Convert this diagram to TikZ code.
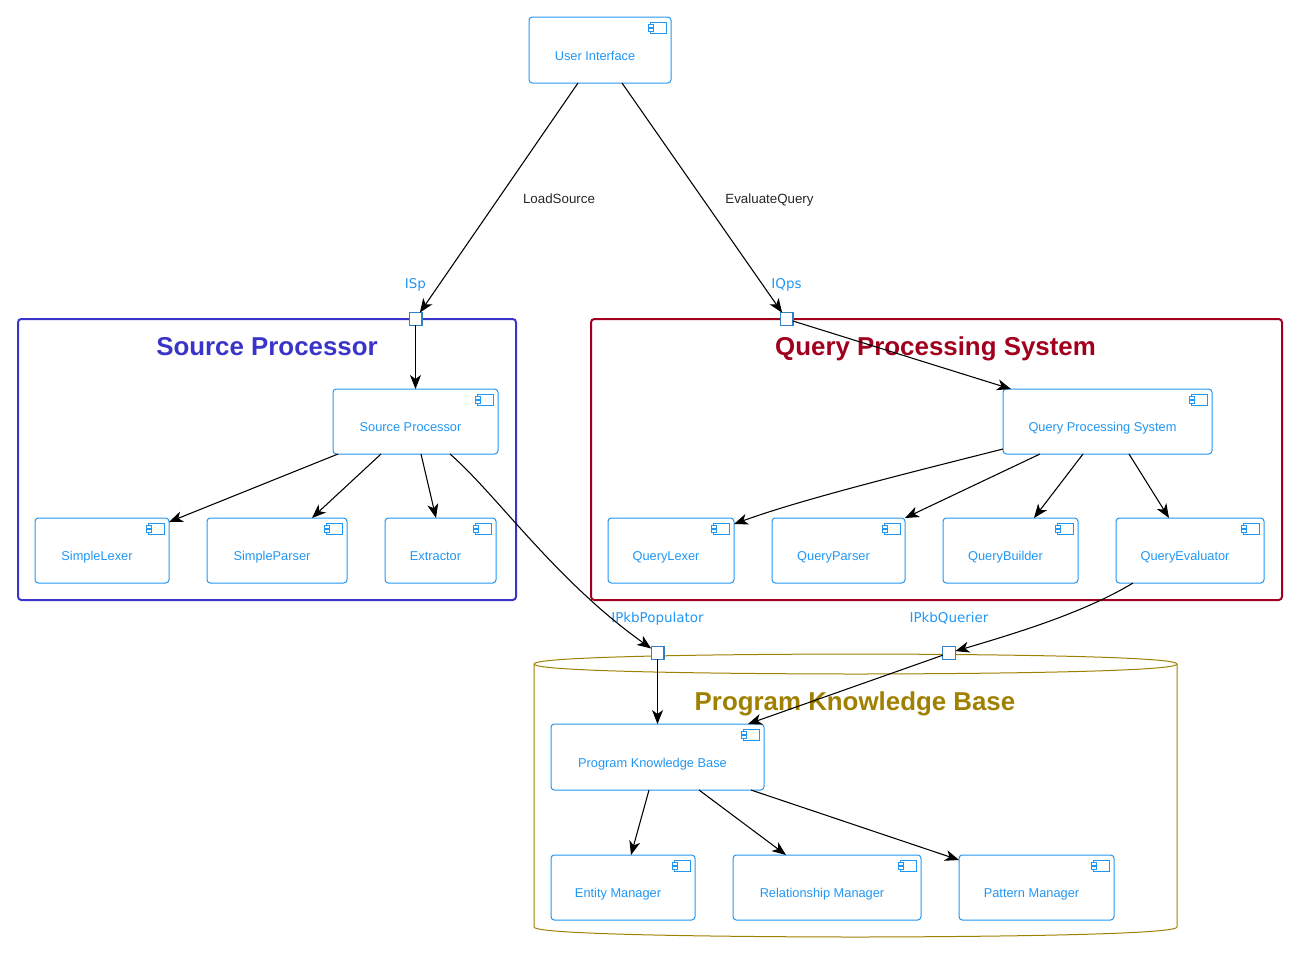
\documentclass[tikz,border=0pt]{standalone}
\usepackage{fontspec}
\setmainfont{Liberation Sans}
\newfontfamily\portfont{DejaVu Sans}
\usepackage{xcolor}
\usetikzlibrary{arrows.meta,positioning,calc}
\definecolor{compblue}{HTML}{2196F3}
\definecolor{portblue}{HTML}{2F80C4}
\definecolor{spblue}{HTML}{3A34C8}
\definecolor{qpsred}{HTML}{A0001E}
\definecolor{pkbgold}{HTML}{A08000}
\tikzset{
    comp/.style={draw=compblue, line width=0.75pt, rounded corners=2.5pt, inner sep=0pt, outer sep=0pt},
    comptext/.style={text=compblue, font=\fontsize{9.6}{11}\selectfont, inner sep=0pt, text height=7pt, text depth=2pt},
    icon/.style={draw=compblue, line width=0.75pt, fill=white},
    frame/.style={draw=#1, line width=1.5pt, rounded corners=2.5pt, inner sep=0pt, outer sep=0pt},
    title/.style={text=#1, font=\fontsize{19.4}{22}\selectfont\bfseries, inner sep=0pt, anchor=base},
    portbox/.style={draw=portblue, line width=1pt, fill=white, minimum size=9.5pt, inner sep=0pt, outer sep=0pt},
    portlabel/.style={text=compblue, font=\portfont\fontsize{10.1}{12}\selectfont, inner sep=0pt, text height=7.5pt, text depth=2pt},
    edgelabel/.style={text=black!85, font=\fontsize{10}{12}\selectfont, inner sep=0pt, text height=7.5pt, text depth=2pt},
    link/.style={-{Stealth[length=10.5pt,width=8.25pt,inset=3pt]}, line width=0.8pt, black}
}
\begin{document}
\begin{tikzpicture}[x=0.75pt,y=-0.75pt]
    \useasboundingbox (0,0) rectangle (1291,958);

    % Outer containers
    \node[frame=spblue, minimum width=373.5pt, minimum height=210.75pt] (spframe) at (267,459.5) {};
    \node[frame=qpsred, minimum width=518.25pt, minimum height=210.75pt] (qpsframe) at (936.5,459.5) {};
    \draw[pkbgold, line width=0.75pt] (534,664) .. controls (534,654) and (855,654) .. (855.5,654)
        .. controls (855,654) and (1177,654) .. (1177,664) -- (1177,927)
        .. controls (1177,937) and (855,937) .. (855.5,937)
        .. controls (855,937) and (534,937) .. (534,927) -- cycle;
    \draw[pkbgold, line width=0.75pt] (534,664) .. controls (534,674) and (855,674) .. (855.5,674)
        .. controls (855,674) and (1177,674) .. (1177,664);

    % Container titles
    \node[title=spblue] (sptitle) at (267,355) {Source Processor};
    \node[title=qpsred] (qpstitle) at (935.5,355) {Query Processing System};
    \node[title=pkbgold] (pkbtitle) at (855,710) {Program Knowledge Base};

    % Draw components
    \foreach \nm/\cx/\cy/\w/\h/\txt in {
        ui/600/50/142/66/User Interface,
        sp/415.5/421.5/165/65/Source Processor,
        lexer/102/550.5/134/65/SimpleLexer,
        parser/277/550.5/140/65/SimpleParser,
        extractor/440.5/550.5/111/65/Extractor,
        qps/1107.5/421.5/209/65/Query Processing System,
        qlexer/671/550.5/126/65/QueryLexer,
        qparser/838.5/550.5/133/65/QueryParser,
        qbuilder/1010.5/550.5/135/65/QueryBuilder,
        qeval/1190/550.5/148/65/QueryEvaluator,
        pkb/657.5/757/213/66/Program Knowledge Base,
        entity/623/887.5/144/65/Entity Manager,
        relation/827/887.5/188/65/Relationship Manager,
        pattern/1036.5/887.5/155/65/Pattern Manager} {
        \node[comp, minimum width=\w*0.75pt, minimum height=\h*0.75pt] (\nm) at (\cx,\cy) {};
        \node[comptext] (\nm-txt) at ($(\nm)+(-5,7)$) {\txt};
        \draw[icon] ($(\nm.north east)+(-20.5,5)$) rectangle ($(\nm.north east)+(-4.5,16)$);
        \draw[icon] ($(\nm.north east)+(-23,7.5)$) rectangle ($(\nm.north east)+(-18,10.5)$);
        \draw[icon] ($(\nm.north east)+(-23,11.5)$) rectangle ($(\nm.north east)+(-18,14.5)$);
    }

    % Ports
    \node[portbox] (isp) at (415.5,319) {};
    \node[portbox] (iqps) at (786.5,319) {};
    \node[portbox] (ipop) at (657.5,653) {};
    \node[portbox] (iquery) at (949,653) {};
    \node[portlabel, above=25.5pt of isp.center, anchor=center] (isp-txt) {ISp};
    \node[portlabel, above=25.5pt of iqps.center, anchor=center] (iqps-txt) {IQps};
    \node[portlabel, above=25.5pt of ipop.center, anchor=center] (ipop-txt) {IPkbPopulator};
    \node[portlabel, above=25.5pt of iquery.center, anchor=center] (iquery-txt) {IPkbQuerier};

    % Connectors
    \draw[link] ($(ui.south west)+(49,0)$) -- (isp);
    \draw[link] ($(ui.south west)+(93,0)$) -- (iqps);
    \draw[link] (isp) -- (isp |- sp.north);
    \draw[link] (iqps) -- ($(qps.north west)+(8,0)$);
    \draw[link] ($(sp.south west)+(5,0)$) -- ($(lexer.north east)+(0,4)$);
    \draw[link] ($(sp.south west)+(48,0)$) -- ($(parser.north east)+(-35,0)$);
    \draw[link] ($(sp.south west)+(88,0)$) -- ($(extractor.north west)+(51,0)$);
    \draw[link] ($(sp.south west)+(117,0)$) .. controls (497,495) and (555,580) .. (ipop);
    \draw[link] ($(qps.south west)+(0,-5)$) .. controls (900,475) and (800,500) .. ($(qlexer.north east)+(0,6)$);
    \draw[link] ($(qps.south west)+(37,0)$) -- ($(qparser.north east)+(0,0)$);
    \draw[link] ($(qps.south west)+(80,0)$) -- ($(qbuilder.north east)+(-44,0)$);
    \draw[link] ($(qps.south west)+(126,0)$) -- ($(qeval.north west)+(53,0)$);
    \draw[link] ($(qeval.south west)+(17,0)$) .. controls (1085,612) and (1020,632) .. (iquery);
    \draw[link] (iquery) -- ($(pkb.north east)+(-16,0)$);
    \draw[link] (ipop) -- (ipop |- pkb.north);
    \draw[link] ($(pkb.south west)+(98,0)$) -- ($(entity.north west)+(80,0)$);
    \draw[link] ($(pkb.south west)+(148,0)$) -- ($(relation.north west)+(53,0)$);
    \draw[link] ($(pkb.south west)+(200,0)$) -- ($(pattern.north west)+(0,5)$);

    % Connector labels
    \node[edgelabel] (loadsrc) at (559,199.5) {LoadSource};
    \node[edgelabel] (evalq) at (769.5,199.5) {EvaluateQuery};
\end{tikzpicture}
\end{document}
